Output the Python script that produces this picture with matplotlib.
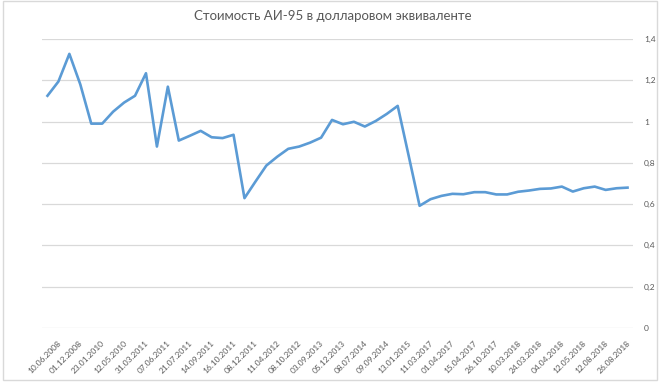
import numpy as np
import matplotlib
matplotlib.use("Agg")
import matplotlib.pyplot as plt

# цена АИ-95 в долларах
price_usd = [1.125, 1.194, 1.328, 1.18, 0.99, 0.99, 1.048, 1.092, 1.125, 1.234,
             0.879, 1.169, 0.908, 0.931, 0.955, 0.924, 0.92, 0.936, 0.629, 0.709,
             0.787, 0.83, 0.868, 0.879, 0.898, 0.922, 1.008, 0.987, 0.999, 0.976,
             1.003, 1.037, 1.076, 0.835, 0.592, 0.624, 0.640, 0.650, 0.648, 0.658,
             0.658, 0.647, 0.647, 0.660, 0.666, 0.674, 0.676, 0.685, 0.661, 0.677,
             0.685, 0.669, 0.677, 0.680]

# подписи стоят на каждой второй точке
date_labels = ['10.06.2008', '01.12.2008', '23.01.2010', '12.05.2010', '31.03.2011',
               '07.06.2011', '21.07.2011', '14.09.2011', '16.10.2011', '08.12.2011',
               '11.04.2012', '08.10.2012', '03.09.2013', '05.12.2013', '08.07.2014',
               '09.09.2014', '13.01.2015', '11.03.2017', '01.04.2017', '15.04.2017',
               '26.10.2017', '10.03.2018', '24.03.2018', '04.04.2018', '12.05.2018',
               '12.08.2018', '26.08.2018']

y_ticks = [0, 0.2, 0.4, 0.6, 0.8, 1.0, 1.2, 1.4]

plt.rcParams['font.family'] = ['Lato', 'DejaVu Sans']

W, H = 662, 382
fig = plt.figure(figsize=(W / 100, H / 100), dpi=100)

# рамка диаграммы как в Excel
fig.patches.append(plt.Rectangle((3 / W, 1 - 380 / H), 654 / W, 379 / H,
                                 transform=fig.transFigure, fill=False,
                                 edgecolor='#d9d9d9', linewidth=1))

left, right, top, bottom = 42, 633, 39, 328
ax = fig.add_axes([left / W, 1 - bottom / H, (right - left) / W, (bottom - top) / H])

n = len(price_usd)
x = np.arange(n)
ax.plot(x, price_usd, color='#5b9bd5', linewidth=1.9, solid_joinstyle='round')

ax.set_xlim(-0.5, n - 0.5)
ax.set_ylim(0, 1.4)
ax.set_yticks(y_ticks)
ax.set_yticklabels([('%g' % v).replace('.', ',') for v in y_ticks])
ax.yaxis.tick_right()
ax.grid(axis='y', color='#d9d9d9', linewidth=0.9)
ax.set_axisbelow(True)

# в Excel конец подписи чуть правее точки
ax.set_xticks(x[::2] + 0.9)
ax.set_xticklabels(date_labels, rotation=45, ha='right', rotation_mode='anchor')

ax.tick_params(axis='both', length=0, colors='#595959', labelsize=6)
ax.tick_params(axis='y', pad=8)
ax.tick_params(axis='x', pad=8)
for s in ax.spines.values():
    s.set_visible(False)

fig.text(333 / W, 1 - 16 / H, 'Стоимость АИ-95 в долларовом эквиваленте',
         ha='center', va='center', fontsize=9.5, color='#595959')

fig.savefig('out.png', dpi=100)
